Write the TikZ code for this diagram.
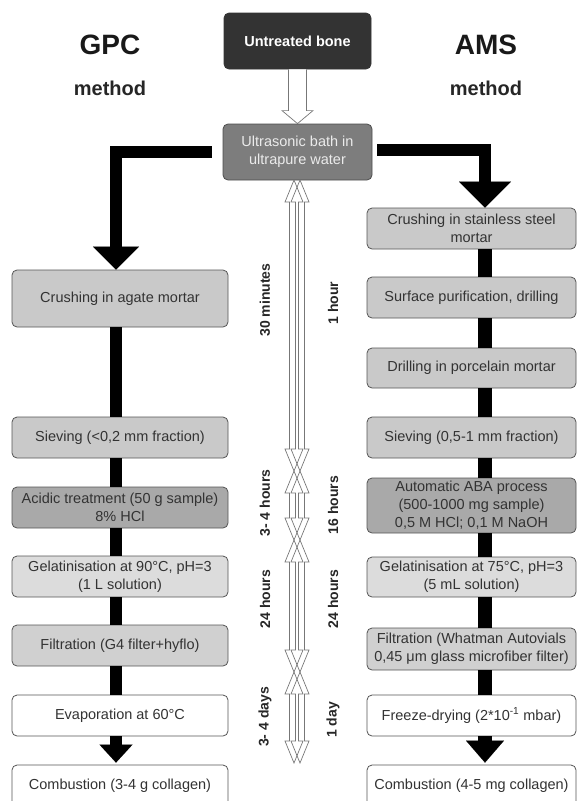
\documentclass[tikz,border=0pt]{standalone}
\usepackage{fontspec}
\setmainfont{Liberation Sans}
\usetikzlibrary{arrows.meta,calc}
\definecolor{bline}{HTML}{555555}
\definecolor{tcol}{HTML}{333333}
\definecolor{hline}{HTML}{777777}
\definecolor{fmid}{HTML}{C9C9C9}
\definecolor{fdark}{HTML}{A9A9A9}
\definecolor{flight}{HTML}{DCDCDC}
\definecolor{ffilt}{HTML}{D0D0D0}
\definecolor{fultra}{HTML}{7D7D7D}
\definecolor{fbone}{HTML}{333333}
\newcommand\hdbl[3]{%
  \draw[hol] (#1,#2) -- ({#1+9},{#2+22}) -- ({#1+4.5},{#2+22}) -- ({#1+4.5},{#3-22})
    -- ({#1+9},{#3-22}) -- (#1,#3) -- ({#1-9},{#3-22}) -- ({#1-4.5},{#3-22})
    -- ({#1-4.5},{#2+22}) -- ({#1-9},{#2+22}) -- cycle;}
\begin{document}
\begin{tikzpicture}[x=1pt,y=-1pt,
  box/.style={draw=bline, line width=0.8pt, rounded corners=5pt, inner sep=1pt,
    align=center, font=\fontsize{14.5}{18}\selectfont, text=tcol},
  lbox/.style={box, minimum width=216pt},
  rbox/.style={box, minimum width=209pt},
  blk/.style={draw=black, line width=12pt, line join=miter},
  hol/.style={draw=hline, line width=0.7pt},
  tlab/.style={rotate=90, font=\fontsize{14}{16}\bfseries\selectfont, text=black!85},
  ttl/.style={font=\fontsize{28}{32}\bfseries\selectfont, text=black!90},
  sub/.style={font=\fontsize{20}{24}\bfseries\selectfont, text=black!85}]
\useasboundingbox (0,0) rectangle (578,801);

% titles
\node[ttl] (gpc) at (110,45) {GPC};
\node[sub] (gpcm) at (110,88) {method};
\node[ttl] (ams) at (486,45) {AMS};
\node[sub] (amsm) at (486,88) {method};

% top boxes
\node[box, draw=black!80, fill=fbone, text=white, font=\fontsize{14.5}{18}\bfseries\selectfont,
  minimum width=147pt, minimum height=56pt] (bone) at (297.5,41) {Untreated bone};
\node[box, draw=black!70, fill=fultra, text=black!8,
  minimum width=149pt, minimum height=56pt] (ultra) at (297.5,152) {Ultrasonic bath in\\ultrapure water};

% left column
\node[lbox, fill=fmid, minimum height=57pt] (l1) at (120,298.5) {Crushing in agate mortar};
\node[lbox, fill=fmid, minimum height=41pt] (l2) at (120,437.5) {Sieving (<0,2 mm fraction)};
\node[lbox, fill=fdark, minimum height=41pt] (l3) at (120,507.5) {Acidic treatment (50 g sample)\\8\% HCl};
\node[lbox, fill=flight, minimum height=41pt] (l4) at (120,576.5) {Gelatinisation at 90°C, pH=3\\(1 L solution)};
\node[lbox, fill=ffilt, minimum height=41pt] (l5) at (120,645.5) {Filtration (G4 filter+hyflo)};
\node[lbox, fill=white, minimum height=41pt] (l6) at (120,715.5) {Evaporation at 60°C};
\node[lbox, fill=white, minimum height=41pt] (l7) at (120,785.5) {Combustion (3-4 g collagen)};

% right column
\node[rbox, fill=fmid, minimum height=41pt] (r1) at (471.5,228.5) {Crushing in stainless steel\\mortar};
\node[rbox, fill=fmid, minimum height=41pt] (r2) at (471.5,297.5) {Surface purification, drilling};
\node[rbox, fill=fmid, minimum height=40pt] (r3) at (471.5,368) {Drilling in porcelain mortar};
\node[rbox, fill=fmid, minimum height=41pt] (r4) at (471.5,437.5) {Sieving (0,5-1 mm fraction)};
\node[rbox, fill=fdark, minimum height=55pt] (r5) at (471.5,505.5) {Automatic ABA process\\(500-1000 mg sample)\\0,5 M HCl; 0,1 M NaOH};
\node[rbox, fill=flight, minimum height=40pt] (r6) at (471.5,577) {Gelatinisation at 75°C, pH=3\\(5 mL solution)};
\node[rbox, fill=ffilt, minimum height=42pt] (r7) at (471.5,649) {Filtration (Whatman Autovials\\0,45 μm glass microfiber filter)};
\node[rbox, fill=white, minimum height=41pt] (r8) at (471.5,715.5) {Freeze-drying (2*10\textsuperscript{-1} mbar)};
\node[rbox, fill=white, minimum height=41pt] (r9) at (471.5,785.5) {Combustion (4-5 mg collagen)};

% hollow arrow bone -> ultra
\draw[hol, fill=white] ($(bone.south)+(-9,0)$) -- ($(ultra.north)+(-9,-13)$) -- ($(ultra.north)+(-15.5,-13)$)
  -- (ultra.north) -- ($(ultra.north)+(15.5,-13)$) -- ($(ultra.north)+(9,-13)$) -- ($(bone.south)+(9,0)$);

% black connectors, left
\draw[blk, -{Triangle[width=46pt,length=23pt,line width=0.01pt]}]
  ([xshift=-11pt]ultra.west) -| ([xshift=-4pt]l1.north);
\draw[blk] ([xshift=-4pt]l1.south) -- ([xshift=-4pt]l2.north);
\draw[blk] ([xshift=-4pt]l2.south) -- ([xshift=-4pt]l3.north);
\draw[blk] ([xshift=-4pt]l3.south) -- ([xshift=-4pt]l4.north);
\draw[blk] ([xshift=-4pt]l4.south) -- ([xshift=-4pt]l5.north);
\draw[blk] ([xshift=-4pt]l5.south) -- ([xshift=-4pt]l6.north);
\draw[blk, shorten >=2pt, -{Triangle[width=33pt,length=18pt,line width=0.01pt]}]
  ([xshift=-4pt]l6.south) -- ([xshift=-4pt]l7.north);

% black connectors, right
\draw[blk, -{Triangle[width=52pt,length=26pt,line width=0.01pt]}]
  ([xshift=5pt,yshift=2pt]ultra.east) -| ([xshift=13.5pt]r1.north);
\draw[blk, line width=14pt] ([xshift=13.5pt]r1.south) -- ([xshift=13.5pt]r2.north);
\draw[blk, line width=14pt] ([xshift=13.5pt]r2.south) -- ([xshift=13.5pt]r3.north);
\draw[blk, line width=14pt] ([xshift=13.5pt]r3.south) -- ([xshift=13.5pt]r4.north);
\draw[blk, line width=14pt] ([xshift=13.5pt]r4.south) -- ([xshift=13.5pt]r5.north);
\draw[blk, line width=14pt] ([xshift=13.5pt]r5.south) -- ([xshift=13.5pt]r6.north);
\draw[blk, line width=14pt] ([xshift=13.5pt]r6.south) -- ([xshift=13.5pt]r7.north);
\draw[blk, line width=14pt] ([xshift=13.5pt]r7.south) -- ([xshift=13.5pt]r8.north);
\draw[blk, line width=14pt, shorten >=2pt, -{Triangle[width=38pt,length=22pt,line width=0.01pt]}]
  ([xshift=13.5pt]r8.south) -- ([xshift=13.5pt]r9.north);

% time span arrows (GPC left, AMS right, overlapping)
\foreach \a/\b in {180/471, 471/540, 540/672, 672/763} {
  \hdbl{294}{\a}{\b}
  \hdbl{300}{\a}{\b}
}

% time labels
\node[tlab] (g1) at (265,300) {30 minutes};
\node[tlab] (g2) at (265,503) {3- 4 hours};
\node[tlab] (g3) at (265,599) {24 hours};
\node[tlab] (g4) at (265,717) {3- 4 days};
\node[tlab] (a1) at (333,303) {1 hour};
\node[tlab] (a2) at (333,505) {16 hours};
\node[tlab] (a3) at (333,599) {24 hours};
\node[tlab] (a4) at (333,720) {1 day};
\end{tikzpicture}
\end{document}
